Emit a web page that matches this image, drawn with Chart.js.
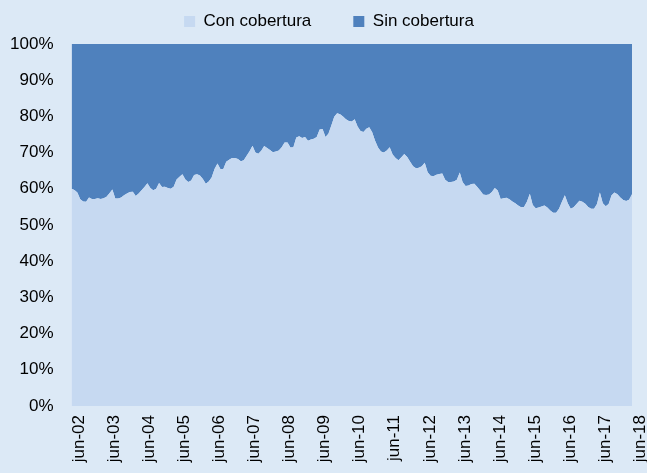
<!DOCTYPE html>
<html>
<head>
<meta charset="utf-8">
<script src="https://cdn.jsdelivr.net/npm/chart.js@4.4.1/dist/chart.umd.min.js"></script>
<style>
  html, body { margin: 0; padding: 0; background: #dce9f6; }
  #grafico { display: block; }
</style>
</head>
<body>
<canvas id="grafico" width="647" height="473"></canvas>
<script>
// Serie mensual jun-02 a jun-18 (% de la cartera con cobertura)
const conCobertura = [
  60.0, 59.7, 59.0, 57.1, 56.5, 56.4, 57.6, 57.2, 57.2, 57.4, 57.2, 57.4,
  57.8, 58.8, 59.8, 57.3, 57.3, 57.6, 58.2, 58.7, 59.1, 59.2, 58.0, 58.7,
  59.6, 60.5, 61.5, 60.2, 59.6, 60.0, 61.6, 60.5, 60.6, 60.2, 60.0, 60.6,
  62.6, 63.3, 64.0, 62.6, 61.9, 62.3, 63.8, 64.0, 63.7, 62.7, 61.4, 62.0,
  63.1, 65.5, 67.0, 65.5, 65.5, 67.5, 68.0, 68.5, 68.5, 68.2, 67.6, 67.9,
  69.1, 70.4, 71.9, 70.0, 69.7, 70.5, 71.8, 71.3, 70.7, 70.1, 70.3, 70.6,
  71.5, 72.8, 72.8, 71.4, 71.5, 74.2, 74.5, 74.0, 74.3, 73.3, 73.6, 73.8,
  74.3, 76.4, 76.5, 74.3, 75.2, 77.5, 79.9, 80.9, 80.6, 80.0, 79.2, 78.7,
  78.6, 79.2, 77.2, 76.0, 75.7, 76.6, 77.0, 75.6, 73.3, 71.4, 70.3, 70.0,
  70.6, 71.5, 69.5, 68.5, 67.9, 68.7, 69.6, 68.8, 67.5, 66.2, 65.7, 65.8,
  66.2, 67.2, 64.6, 63.6, 63.5, 63.9, 64.1, 64.2, 62.5, 61.9, 61.9, 62.0,
  62.5, 64.5, 61.8, 60.8, 60.9, 61.3, 61.4, 60.5, 59.5, 58.4, 58.3, 58.4,
  59.1, 60.2, 59.5, 57.2, 57.4, 57.5, 57.1, 56.5, 56.0, 55.4, 54.9, 55.0,
  56.4, 58.6, 55.5, 54.6, 54.8, 55.1, 55.4, 54.8, 54.0, 53.4, 53.4, 54.5,
  56.4, 58.2, 56.0, 54.5, 54.9, 55.8, 56.7, 56.4, 55.9, 55.0, 54.5, 54.5,
  55.8, 59.0, 56.0, 55.2, 55.8, 58.2, 59.0, 58.5, 57.6, 56.9, 56.6, 57.0,
  58.5
];
// el resto hasta 100% (grafico apilado al 100%)
const sinCobertura = conCobertura.map(v => +(100 - v).toFixed(1));

const nombresMes = ['ene', 'feb', 'mar', 'abr', 'may', 'jun', 'jul', 'ago', 'sep', 'oct', 'nov', 'dic'];
const meses = [];
for (let i = 0; i < conCobertura.length; i++) {
    const m = (5 + i) % 12;
    const a = 2 + Math.floor((5 + i) / 12);
    meses.push(nombresMes[m] + '-' + String(a).padStart(2, '0'));
}
const ticksY = [0, 10, 20, 30, 40, 50, 60, 70, 80, 90, 100];

const fuente = { family: "'Liberation Sans', Arial, sans-serif", size: 17 };

// altura fija de la leyenda y un pequeño desplazamiento a la derecha
const leyendaFija = {
    id: 'leyendaFija',
    beforeInit(chart) {
        const fitOrig = chart.legend.fit;
        chart.legend.fit = function () {
            fitOrig.bind(chart.legend)();
            this.height = 73;
        };
    },
    afterLayout(chart) {
        chart.legend.left += 13;
        chart.legend.right += 13;
    }
};

new Chart(document.getElementById('grafico'), {
    type: 'line',
    data: {
        labels: meses,
        datasets: [{
            label: 'Con cobertura',
            data: conCobertura,
            backgroundColor: '#c6d9f1',
            borderColor: '#c6d9f1',
            borderWidth: 0,
            pointRadius: 0,
            fill: 'origin',
            tension: 0
        }, {
            label: 'Sin cobertura',
            data: sinCobertura,
            backgroundColor: '#4f81bd',
            borderColor: '#4f81bd',
            borderWidth: 0,
            pointRadius: 0,
            fill: '-1',
            tension: 0
        }]
    },
    options: {
        responsive: false,
        animation: false,
        devicePixelRatio: 1,
        layout: { padding: { top: -29, right: 15, left: 0, bottom: 0 } },
        plugins: {
            tooltip: { enabled: false },
            legend: {
                position: 'top',
                labels: {
                    font: fuente,
                    color: '#000',
                    boxWidth: 11,
                    boxHeight: 11,
                    padding: 42,
                    generateLabels(chart) {
                        return chart.data.datasets.map((ds, i) => ({
                            text: ds.label,
                            fillStyle: ds.backgroundColor,
                            strokeStyle: ds.backgroundColor,
                            lineWidth: 0,
                            datasetIndex: i
                        }));
                    }
                }
            }
        },
        scales: {
            x: {
                type: 'category',
                offset: false,
                grid: { display: false, drawTicks: false },
                border: { display: false },
                afterFit(scale) {
                    scale.height = 67;
                    scale.paddingRight = 0;
                    scale.paddingLeft = 0;
                },
                ticks: {
                    autoSkip: false,
                    maxRotation: 90,
                    minRotation: 90,
                    padding: 9,
                    labelOffset: 8,
                    font: fuente,
                    color: '#000',
                    callback: (v, i) => (i % 12 === 0 ? meses[i] : '')
                }
            },
            y: {
                stacked: true,
                min: 0,
                max: 100,
                grid: { display: false, drawTicks: false },
                border: { display: false },
                afterFit(scale) { scale.width = 71.5; },
                afterBuildTicks(scale) { scale.ticks = ticksY.map(v => ({ value: v })); },
                ticks: {
                    padding: 18,
                    font: fuente,
                    color: '#000',
                    callback: v => v + '%'
                }
            }
        }
    },
    plugins: [leyendaFija]
});
</script>
</body>
</html>
